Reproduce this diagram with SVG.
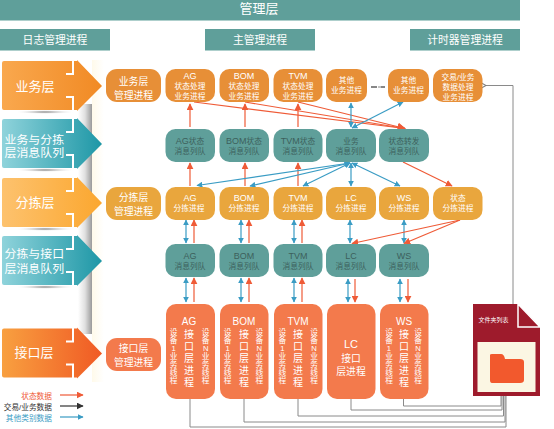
<svg xmlns="http://www.w3.org/2000/svg" width="554" height="429" viewBox="0 0 554 429">
<style>
text{font-family:"Liberation Sans","Noto Sans CJK SC",sans-serif;text-anchor:middle;fill:#fff}
.h{fill:#5F9F9A}
.o1{fill:#E78F37}.o2{fill:#E9A63D}.o3{fill:#F37A4C}.t{fill:#5F9F9A}
.n1{font-size:9.800px}.n2{font-size:7.700px}.n3{font-size:9px}.d{fill:#3d5f5c}
.v{font-size:7.700px}
.v2{font-size:10px}
.tt{font-size:10px}
.side{font-size:13px}.side2{font-size:11.900px}
.r{stroke:#EF5B37;stroke-width:1.200;fill:none}
.b{stroke:#3A9CC4;stroke-width:1.200;fill:none}
.g{stroke:#8a8a8a;stroke-width:1;fill:none}
.notch{stroke:#fff;stroke-width:2;fill:none}
.hd{font-size:10.800px}
</style>
<defs>
<marker id="ar" viewBox="0 0 10 10" refX="9" refY="5" markerWidth="7" markerHeight="7" orient="auto" markerUnits="userSpaceOnUse"><path d="M0 0L10 5L0 10z" fill="#EF5B37"/></marker>
<marker id="arB" viewBox="0 0 10 10" refX="9" refY="5" markerWidth="9" markerHeight="8" orient="auto" markerUnits="userSpaceOnUse"><path d="M0 0L10 5L0 10z" fill="#EF5B37"/></marker>
<marker id="ab" viewBox="0 0 10 10" refX="9" refY="5" markerWidth="6" markerHeight="6" orient="auto-start-reverse" markerUnits="userSpaceOnUse"><path d="M0 0L10 5L0 10z" fill="#3A9CC4"/></marker>
<marker id="ak" viewBox="0 0 10 10" refX="9" refY="5" markerWidth="7" markerHeight="7" orient="auto" markerUnits="userSpaceOnUse"><path d="M0 0L10 5L0 10z" fill="#333"/></marker>
<marker id="ag" viewBox="0 0 10 10" refX="1" refY="5" markerWidth="7" markerHeight="7" orient="auto-start-reverse" markerUnits="userSpaceOnUse"><path d="M10 0L1 5L10 10" fill="none" stroke="#7d7d7d" stroke-width="1.600"/></marker>
<linearGradient id="g1"><stop offset="0" stop-color="#F9A84E"/><stop offset="1" stop-color="#F18A24"/></linearGradient>
<linearGradient id="g2"><stop offset="0" stop-color="#8FD3DB"/><stop offset="1" stop-color="#1E97A6"/></linearGradient>
<linearGradient id="g3"><stop offset="0" stop-color="#FDC26E"/><stop offset="1" stop-color="#FBA72F"/></linearGradient>
<linearGradient id="g4"><stop offset="0" stop-color="#F8A040"/><stop offset="1" stop-color="#F05A24"/></linearGradient>
<linearGradient id="sh"><stop offset="0" stop-color="#fff"/><stop offset=".5" stop-color="#e0e0e0"/><stop offset="1" stop-color="#9a9a9a"/></linearGradient>
<linearGradient id="cr"><stop offset="0" stop-color="#FFFAEA"/><stop offset="1" stop-color="#fff"/></linearGradient>
<radialGradient id="un"><stop offset="0" stop-color="#777"/><stop offset="1" stop-color="#fff" stop-opacity="0"/></radialGradient>
<path id="ah" d="M2 3Q2 1 4 1H77V0L102 26L77 51V50H4Q2 50 2 48Z"/>
</defs>
<rect x="0" y="0" width="554" height="429" fill="#fff"/>

<g id="top"><rect class="h" x="0" y="0" width="520" height="20.500"/><text x="259" y="13" font-size="13">管理层</text></g>
<g id="hdr1"><rect class="h" x="0" y="29" width="110" height="21.500"/><text class="hd" x="55" y="44">日志管理进程</text></g>
<g id="hdr2"><rect class="h" x="205" y="29" width="110" height="21.500"/><text class="hd" x="260" y="44">主管理进程</text></g>
<g id="hdr3"><rect class="h" x="410" y="29" width="110" height="21.500"/><text class="hd" x="465" y="44">计时器管理进程</text></g>

<rect x="92" y="60" width="12" height="322" fill="url(#cr)"/>
<rect x="78" y="104" width="14" height="230" fill="url(#sh)"/>
<ellipse cx="45" cy="112" rx="30" ry="2" fill="url(#un)"/>
<ellipse cx="45" cy="170" rx="30" ry="2" fill="url(#un)"/>
<ellipse cx="45" cy="229" rx="30" ry="2" fill="url(#un)"/>
<ellipse cx="45" cy="287" rx="30" ry="2" fill="url(#un)"/>

<g id="sideA" transform="translate(0,60)"><use href="#ah" fill="url(#g1)"/><path class="notch" d="M66 14H73V0M66 37H73V51"/><text class="side" x="35" y="31">业务层</text></g>
<g id="sideB" transform="translate(0,118)"><use href="#ah" fill="url(#g2)"/><path class="notch" d="M66 14H73V0M66 37H73V51"/><text class="side2" x="34.300" y="25.500">业务与分拣</text><text class="side2" x="34.300" y="39">层消息队列</text></g>
<g id="sideC" transform="translate(0,177)"><use href="#ah" fill="url(#g3)"/><path class="notch" d="M66 14H73V0M66 37H73V51"/><text class="side" x="35" y="29.500">分拣层</text></g>
<g id="sideD" transform="translate(0,235)"><use href="#ah" fill="url(#g2)"/><path class="notch" d="M66 14H73V0M66 37H73V51"/><text class="side2" x="34.300" y="23">分拣与接口</text><text class="side2" x="34.300" y="37.600">层消息队列</text></g>
<g id="sideE" transform="translate(0,327.500)"><use href="#ah" fill="url(#g4)"/><path class="notch" d="M66 14H73V0M66 37H73V51"/><text class="side" x="34" y="29.500">接口层</text></g>

<g id="connectors">
<path class="r" marker-end="url(#ar)" d="M190 127V104"/><path class="r" marker-end="url(#ar)" d="M245 127V104"/><path class="r" marker-end="url(#ar)" d="M298 127V104"/>
<path class="r" marker-end="url(#ar)" d="M190 186V163"/><path class="r" marker-end="url(#ar)" d="M245 186V163"/><path class="r" marker-end="url(#ar)" d="M298 186V163"/>
<path class="r" marker-end="url(#arB)" d="M194 102L405 128.500"/><path class="r" marker-end="url(#arB)" d="M245 102L405 128.500"/><path class="r" marker-end="url(#arB)" d="M298 102L405 128.500"/>
<path class="r" marker-end="url(#ar)" d="M403 162L452 186"/>
<path class="b" marker-start="url(#ab)" marker-end="url(#ab)" d="M351 103V127"/>
<path class="b" marker-start="url(#ab)" marker-end="url(#ab)" d="M403 102L352 128"/>
<path class="b" marker-start="url(#ab)" marker-end="url(#ab)" d="M351 163V186"/>
<path class="b" marker-start="url(#ab)" marker-end="url(#ab)" d="M352 163L400 186"/>
<path class="b" marker-start="url(#ab)" marker-end="url(#ab)" d="M350 163L303 186"/>
<path class="b" marker-start="url(#ab)" marker-end="url(#ab)" d="M350 163L250 186"/>
<path class="b" marker-start="url(#ab)" marker-end="url(#ab)" d="M350 163L197 185.500"/>
<path d="M371 87H377M378.500 87H379.500M380.500 87H385" stroke="#111" stroke-width="1.200" fill="none"/>

<path class="b" marker-start="url(#ab)" marker-end="url(#ab)" d="M186 220V243"/><path class="r" marker-end="url(#ar)" d="M194 243V220"/>
<path class="b" marker-start="url(#ab)" marker-end="url(#ab)" d="M241 220V243"/><path class="r" marker-end="url(#ar)" d="M249 243V220"/>
<path class="b" marker-start="url(#ab)" marker-end="url(#ab)" d="M294 220V243"/><path class="r" marker-end="url(#ar)" d="M302 243V220"/>
<path class="b" marker-start="url(#ab)" marker-end="url(#ab)" d="M350 220V243"/>
<path class="b" marker-start="url(#ab)" marker-end="url(#ab)" d="M404 220V243"/>
<path class="r" marker-end="url(#ar)" d="M460 220L352 243.500"/><path class="r" marker-end="url(#ar)" d="M460 220L404 243.500"/>

<path class="b" marker-start="url(#ab)" marker-end="url(#ab)" d="M186 278V302"/><path class="r" marker-end="url(#ar)" d="M194 302V278"/>
<path class="b" marker-start="url(#ab)" marker-end="url(#ab)" d="M241 278V302"/><path class="r" marker-end="url(#ar)" d="M249 302V278"/>
<path class="b" marker-start="url(#ab)" marker-end="url(#ab)" d="M294 278V302"/><path class="r" marker-end="url(#ar)" d="M302 302V278"/>
<path class="b" marker-start="url(#ab)" marker-end="url(#ab)" d="M348 279V302"/><path class="r" marker-end="url(#ar)" d="M355 279V302"/>
<path class="b" marker-start="url(#ab)" marker-end="url(#ab)" d="M400 279V302"/><path class="r" marker-end="url(#ar)" d="M408 279V302"/>

<path class="g" d="M190 399V427H506V396"/>
<path class="g" d="M244 399V422H505V396"/>
<path class="g" d="M298 399V416H503.500V396"/>
<path class="g" d="M351 399V410H502V396"/>
<path class="g" d="M403.500 399V406H501V396"/>
<path class="g" marker-end="url(#ag)" d="M513 304V85.500H486"/>
</g>

<g id="n-biz-mgr"><rect class="o1" x="106" y="69" width="55" height="33" rx="11"/><text class="n1" x="133.500" y="84.500">业务层</text><text class="n1" x="133.500" y="98.500">管理进程</text></g>
<g id="n-ag1"><rect class="o1" x="165.500" y="69" width="49.500" height="33" rx="10"/><text class="n3" x="190" y="79">AG</text><text class="n2" x="190" y="88.500">状态处理</text><text class="n2" x="190" y="98.500">业务进程</text></g>
<g id="n-bom1"><rect class="o1" x="219.500" y="69" width="49.500" height="33" rx="10"/><text class="n3" x="244" y="79">BOM</text><text class="n2" x="244" y="88.500">状态处理</text><text class="n2" x="244" y="98.500">业务进程</text></g>
<g id="n-tvm1"><rect class="o1" x="273.500" y="69" width="49" height="33" rx="10"/><text class="n3" x="298" y="79">TVM</text><text class="n2" x="298" y="88.500">状态处理</text><text class="n2" x="298" y="98.500">业务进程</text></g>
<g id="n-other1"><rect class="o1" x="326" y="69" width="41" height="33" rx="10"/><text class="n2" x="346.500" y="83">其他</text><text class="n2" x="346.500" y="93">业务进程</text></g>
<g id="n-other2"><rect class="o1" x="388" y="69" width="41" height="33" rx="10"/><text class="n2" x="408.500" y="83">其他</text><text class="n2" x="408.500" y="93">业务进程</text></g>
<g id="n-trade"><rect class="o1" x="433" y="69" width="49.500" height="33" rx="10"/><text class="n2" x="458" y="80">交易/业务</text><text class="n2" x="458" y="90">数据处理</text><text class="n2" x="458" y="100">业务进程</text></g>

<g id="q-ag"><rect class="t" x="165.500" y="129" width="49.500" height="33" rx="10"/><text class="n2 d" x="190" y="143.500"><tspan class="n3">AG</tspan>状态</text><text class="n2 d" x="190" y="153.500">消息列队</text></g>
<g id="q-bom"><rect class="t" x="219.500" y="129" width="49.500" height="33" rx="10"/><text class="n2 d" x="244" y="143.500"><tspan class="n3">BOM</tspan>状态</text><text class="n2 d" x="244" y="153.500">消息列队</text></g>
<g id="q-tvm"><rect class="t" x="273.500" y="129" width="49" height="33" rx="10"/><text class="n2 d" x="298" y="143.500"><tspan class="n3">TVM</tspan>状态</text><text class="n2 d" x="298" y="153.500">消息列队</text></g>
<g id="q-biz"><rect class="t" x="326" y="129" width="50" height="33" rx="10"/><text class="n2 d" x="351" y="143.500">业务</text><text class="n2 d" x="351" y="153.500">消息列队</text></g>
<g id="q-state"><rect class="t" x="379" y="129" width="50" height="33" rx="10"/><text class="n2 d" x="404" y="143.500">状态转发</text><text class="n2 d" x="404" y="153.500">消息列队</text></g>

<g id="s-mgr"><rect class="o2" x="106" y="187" width="55" height="33" rx="11"/><text class="n1" x="133.500" y="200.500">分拣层</text><text class="n1" x="133.500" y="214.500">管理进程</text></g>
<g id="s-ag"><rect class="o2" x="165.500" y="187" width="49.500" height="33" rx="10"/><text class="n3" x="190" y="201">AG</text><text class="n2" x="189" y="211">分拣进程</text></g>
<g id="s-bom"><rect class="o2" x="219.500" y="187" width="49.500" height="33" rx="10"/><text class="n3" x="244" y="201">BOM</text><text class="n2" x="244" y="211">分拣进程</text></g>
<g id="s-tvm"><rect class="o2" x="273.500" y="187" width="49" height="33" rx="10"/><text class="n3" x="298" y="201">TVM</text><text class="n2" x="298" y="211">分拣进程</text></g>
<g id="s-lc"><rect class="o2" x="326" y="187" width="50" height="33" rx="10"/><text class="n3" x="351" y="201">LC</text><text class="n2" x="351" y="211">分拣进程</text></g>
<g id="s-ws"><rect class="o2" x="379" y="187" width="50" height="33" rx="10"/><text class="n3" x="404" y="201">WS</text><text class="n2" x="404" y="211">分拣进程</text></g>
<g id="s-state"><rect class="o2" x="433" y="187" width="49.500" height="33" rx="10"/><text class="n2" x="458" y="201">状态</text><text class="n2" x="458" y="211">分拣进程</text></g>

<g id="m-ag"><rect class="t" x="165.500" y="244" width="49.500" height="33" rx="10"/><text class="n3 d" x="190" y="259">AG</text><text class="n2 d" x="190" y="268.500">消息列队</text></g>
<g id="m-bom"><rect class="t" x="219.500" y="244" width="49.500" height="33" rx="10"/><text class="n3 d" x="244" y="259">BOM</text><text class="n2 d" x="244" y="268.500">消息列队</text></g>
<g id="m-tvm"><rect class="t" x="273.500" y="244" width="49" height="33" rx="10"/><text class="n3 d" x="298" y="259">TVM</text><text class="n2 d" x="298" y="268.500">消息列队</text></g>
<g id="m-lc"><rect class="t" x="326" y="244" width="50" height="33" rx="10"/><text class="n3 d" x="351" y="259">LC</text><text class="n2 d" x="351" y="268.500">消息列队</text></g>
<g id="m-ws"><rect class="t" x="379" y="244" width="50" height="33" rx="10"/><text class="n3 d" x="404" y="259">WS</text><text class="n2 d" x="404" y="268.500">消息列队</text></g>

<g id="i-mgr"><rect class="o3" x="106" y="338" width="55" height="33" rx="11"/><text class="n1" x="133.500" y="351.500">接口层</text><text class="n1" x="133.500" y="366">管理进程</text></g>
<g id="i-ag"><rect class="o3" x="166" y="304" width="49" height="95" rx="10"/><text class="tt" x="189" y="325">AG</text>
<text class="v2" x="189 189 189 189 189" y="337.600 349.600 361.600 373.600 385.600">接口层进程</text>
<text class="v" x="173.700 173.700 173.700 173.700 173.700 173.700 173.700" y="335 343 351 359 367 375 383">设备1业务线程</text>
<text class="v" x="205.700 205.700 205.700 205.700 205.700 205.700 205.700" y="335 343 351 359 367 375 383">设备N业务线程</text></g>
<g id="i-bom"><rect class="o3" x="220" y="304" width="48.500" height="95" rx="10"/><text class="tt" x="244" y="325">BOM</text>
<text class="v2" x="244 244 244 244 244" y="337.600 349.600 361.600 373.600 385.600">接口层进程</text>
<text class="v" x="227.700 227.700 227.700 227.700 227.700 227.700 227.700" y="335 343 351 359 367 375 383">设备1业务线程</text>
<text class="v" x="259.300 259.300 259.300 259.300 259.300 259.300 259.300" y="335 343 351 359 367 375 383">设备N业务线程</text></g>
<g id="i-tvm"><rect class="o3" x="274" y="304" width="48.500" height="95" rx="10"/><text class="tt" x="298" y="325">TVM</text>
<text class="v2" x="298 298 298 298 298" y="337.600 349.600 361.600 373.600 385.600">接口层进程</text>
<text class="v" x="282.300 282.300 282.300 282.300 282.300 282.300 282.300" y="335 343 351 359 367 375 383">设备1业务线程</text>
<text class="v" x="314 314 314 314 314 314 314" y="335 343 351 359 367 375 383">设备N业务线程</text></g>
<g id="i-lc"><rect class="o3" x="327" y="304" width="48.500" height="95" rx="10"/><text x="351" y="348" font-size="11">LC</text><text x="351" y="361.500" font-size="9.800">接口</text><text x="351" y="375" font-size="9.800">层进程</text></g>
<g id="i-ws"><rect class="o3" x="380" y="304" width="48.500" height="95" rx="10"/><text class="tt" x="404" y="325">WS</text>
<text class="v2" x="404 404 404 404 404" y="337.600 349.600 361.600 373.600 385.600">接口层进程</text>
<text class="v" x="389 389 389 389 389 389 389" y="335 343 351 359 367 375 383">设备1业务线程</text>
<text class="v" x="418 418 418 418 418 418 418" y="335 343 351 359 367 375 383">设备N业务线程</text></g>

<g id="doc">
<path d="M473 304H518L540 327V396H473Z" fill="#9E1B2C"/>
<path d="M518 304V327H540Z" fill="#9E1B2C" stroke="#fff" stroke-width="1.500"/>
<text x="493.500" y="322" font-size="6">文件夹列表</text>
<rect x="477.500" y="342" width="58" height="50" fill="#FBF6E3"/>
<path d="M490 355Q490 354 492 354H501Q504 354 505 359H520Q524 359 524 362V380Q524 383 520 383H492Q490 383 490 380Z" fill="#F2592D"/>
</g>

<g id="legend">
<text x="52" y="398.500" font-size="7.700" style="text-anchor:end;fill:#EF5B37">状态数据</text><path class="r" marker-end="url(#ar)" d="M60 395H83"/>
<text x="52" y="409.500" font-size="7.700" style="text-anchor:end;fill:#333">交易/业务数据</text><path d="M60 406H83" stroke="#333" stroke-width="1.200" marker-end="url(#ak)"/>
<text x="52" y="420.500" font-size="7.700" style="text-anchor:end;fill:#3A9CC4">其他类别数据</text><path class="b" marker-end="url(#ab)" d="M60 417H83"/>
</g>
</svg>
